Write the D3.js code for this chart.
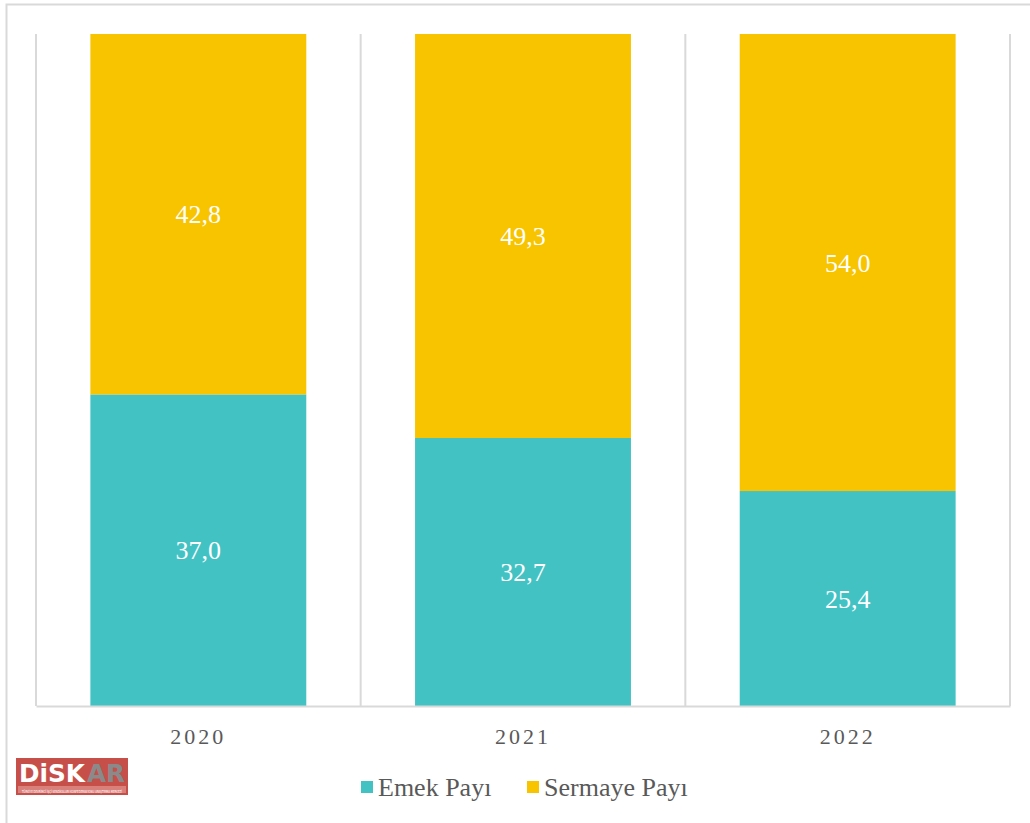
<!DOCTYPE html>
<html><head><meta charset="utf-8">
<script src="https://cdn.jsdelivr.net/npm/d3@7"></script>
<style>body{margin:0;background:#fff;} svg{display:block;}</style>
</head><body>
<script>
const years = ["2020", "2021", "2022"];
const emek = [37.0, 32.7, 25.4];
const sermaye = [42.8, 49.3, 54.0];
const seriesNames = ["Emek Payı", "Sermaye Payı"];
const colors = ["#43C2C4", "#F8C400"];

const W = 1030, H = 823;
const svg = d3.select("body").append("svg").attr("width", W).attr("height", H);
const font = "'Liberation Serif', 'DejaVu Serif', serif";

// outer frame
svg.append("path").attr("d", `M6.5,${H} V4.5 H${W}`).attr("fill", "none").attr("stroke", "#d9d9d9").attr("stroke-width", 2);

const m = {l: 36, r: 1010, t: 34, b: 706};
const x = d3.scaleBand().domain(years).range([m.l, m.r]).paddingInner(0).paddingOuter(0);
const y = d3.scaleLinear().domain([0, 1]).range([m.b, m.t]);

const rows = years.map((yr, i) => ({year: yr, emek: emek[i], sermaye: sermaye[i]}));
const stack = d3.stack().keys(["emek", "sermaye"]).offset(d3.stackOffsetExpand);
const layers = stack(rows);

// gridlines (category boundaries)
const bounds = years.map(d => x(d)).concat([x(years[years.length - 1]) + x.bandwidth()]);
svg.append("g").selectAll("line").data(bounds).join("line")
  .attr("x1", d => d).attr("x2", d => d).attr("y1", m.t).attr("y2", m.b)
  .attr("stroke", "#d9d9d9").attr("stroke-width", 2);

const barW = x.bandwidth() * 0.665;
const g = svg.append("g");
layers.forEach((layer, li) => {
  g.append("g").selectAll("rect").data(layer).join("rect")
    .attr("x", d => x(d.data.year) + (x.bandwidth() - barW) / 2)
    .attr("width", barW)
    .attr("y", d => y(d[1]))
    .attr("height", d => y(d[0]) - y(d[1]))
    .attr("fill", colors[li]);
  g.append("g").selectAll("text").data(layer).join("text")
    .attr("x", d => x(d.data.year) + x.bandwidth() / 2)
    .attr("y", d => (y(d[0]) + y(d[1])) / 2)
    .attr("dy", "0.35em")
    .attr("text-anchor", "middle")
    .attr("fill", "#fff")
    .attr("font-family", font)
    .attr("font-size", 26)
    .text(d => d3.format(".1f")(d.data[layer.key]).replace(".", ","));
});

// x axis
const xAxis = svg.append("g").attr("transform", `translate(0,${m.b})`)
  .call(d3.axisBottom(x).tickSize(0).tickPadding(22));
xAxis.select(".domain").attr("stroke", "#d9d9d9").attr("stroke-width", 2);
xAxis.selectAll("text").attr("font-family", font).attr("font-size", 22)
  .attr("fill", "#595959").attr("letter-spacing", "3px");

// legend
const legend = svg.append("g").attr("font-family", font).attr("font-size", 26).attr("fill", "#595959");
const legX = [361, 527];
seriesNames.forEach((n, i) => {
  legend.append("rect").attr("x", legX[i]).attr("y", 781).attr("width", 12).attr("height", 12).attr("fill", colors[i]);
  legend.append("text").attr("x", legX[i] + 17).attr("y", 796).text(n);
});

// logo
const logo = svg.append("g").attr("transform", "translate(16,758)");
logo.append("rect").attr("width", 112).attr("height", 37).attr("fill", "#c64f4a");
logo.append("rect").attr("x", 2).attr("y", 28).attr("width", 108).attr("height", 7).attr("fill", "#d9807b");
logo.append("text").attr("x", 3).attr("y", 23.5).attr("font-family", "'DejaVu Sans', sans-serif")
  .attr("font-weight", "bold").attr("font-size", 24).attr("fill", "#fff")
  .attr("textLength", 66).attr("lengthAdjust", "spacingAndGlyphs").text("DiSK");
logo.append("text").attr("x", 71).attr("y", 23.5).attr("font-family", "'DejaVu Sans', sans-serif")
  .attr("font-weight", "bold").attr("font-size", 24).attr("fill", "#8a8a8a")
  .attr("textLength", 38).attr("lengthAdjust", "spacingAndGlyphs").text("AR");
logo.append("text").attr("x", 56).attr("y", 34.5).attr("text-anchor", "middle")
  .attr("font-family", "'DejaVu Sans Condensed', sans-serif").attr("font-size", 4).attr("fill", "#fff")
  .attr("textLength", 100).attr("lengthAdjust", "spacingAndGlyphs")
  .text("TÜRKİYE DEVRİMCİ İŞÇİ SENDİKALARI KONFEDERASYONU ARAŞTIRMA MERKEZİ");
</script>
</body></html>
